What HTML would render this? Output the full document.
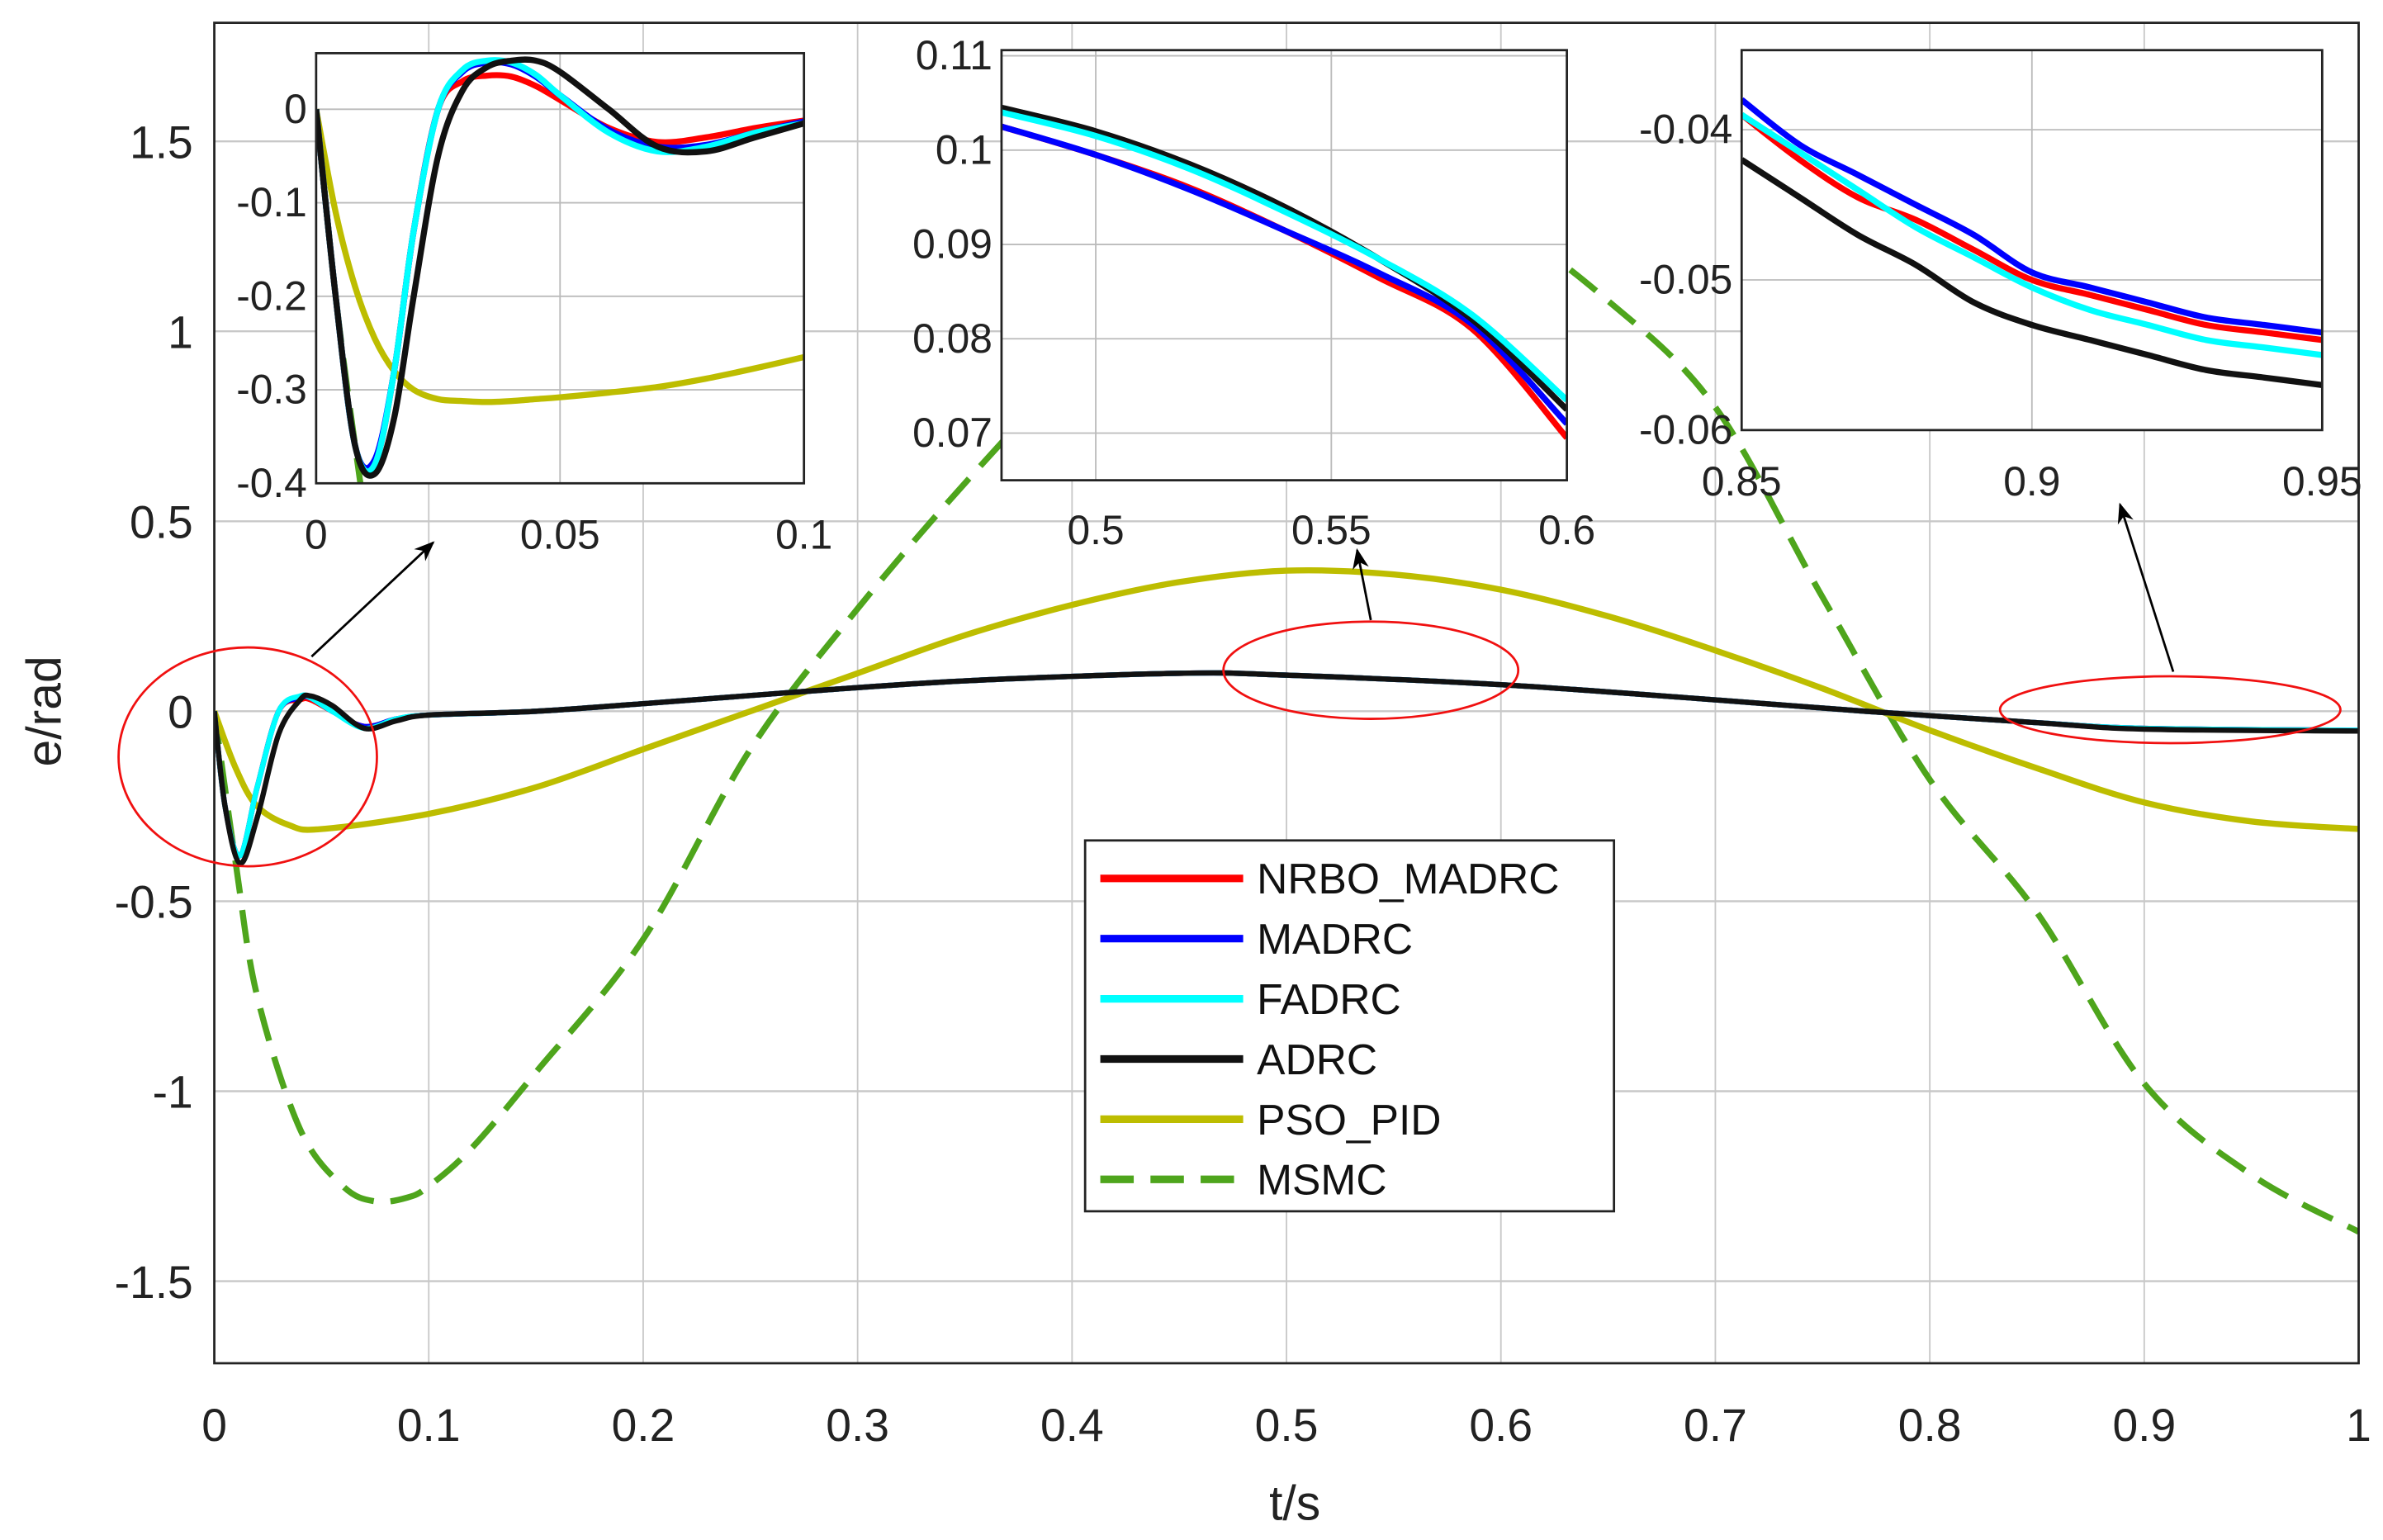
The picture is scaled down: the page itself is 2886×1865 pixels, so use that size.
<!DOCTYPE html>
<html><head><meta charset="utf-8"><style>
html,body{margin:0;padding:0;background:#fff;}
svg{display:block;font-family:"Liberation Sans",sans-serif;}
</style></head><body>
<svg id="chart" width="2886" height="1865" viewBox="0 0 1568 1013.3" xmlns="http://www.w3.org/2000/svg">
<defs>
<clipPath id="cMain"><rect x="141" y="15" width="1411" height="882"/></clipPath>
<clipPath id="cI1"><rect x="208" y="35" width="321" height="283"/></clipPath>
<clipPath id="cI2"><rect x="659" y="33" width="372" height="283"/></clipPath>
<clipPath id="cI3"><rect x="1146" y="33" width="382" height="250"/></clipPath>
<marker id="ah" viewBox="0 0 10 10" refX="9" refY="5" markerWidth="9" markerHeight="9" orient="auto"><path d="M0,1 L10,5 L0,9 L3,5 z" fill="#000"/></marker>
</defs>
<g id="layer"></g>
</svg>
<script>
// ===== data =====
const mainTicksX = [0,0.1,0.2,0.3,0.4,0.5,0.6,0.7,0.8,0.9,1];
const mainTickLabelsX = ["0","0.1","0.2","0.3","0.4","0.5","0.6","0.7","0.8","0.9","1"];
const mainTicksY = [1.5,1,0.5,0,-0.5,-1,-1.5];
const mainTickLabelsY = ["1.5","1","0.5","0","-0.5","-1","-1.5"];
const seriesNames = ["NRBO_MADRC","MADRC","FADRC","ADRC","PSO_PID","MSMC"];

const tMain = [0,0.005,0.012,0.02,0.03,0.04,0.045,0.055,0.07,0.085,0.1,0.15,0.2,0.27,0.35,0.45,0.5,0.6,0.7,0.77,0.85,0.9,1];
const nrboMain = [0,-0.25,-0.38,-0.2,0.0,0.03,0.03,0.0,-0.04,-0.02,-0.01,0,0.02,0.05,0.08,0.1,0.095,0.07,0.03,0,-0.03,-0.045,-0.05];
const madrcMain = [0,-0.25,-0.38,-0.2,0.0,0.035,0.035,0.0,-0.04,-0.02,-0.01,0,0.02,0.05,0.08,0.1,0.095,0.07,0.03,0,-0.03,-0.045,-0.05];
const fadrcMain = [0,-0.25,-0.38,-0.2,0.0,0.04,0.035,0.0,-0.045,-0.02,-0.01,0,0.02,0.05,0.08,0.1,0.095,0.07,0.03,0,-0.03,-0.045,-0.05];
const adrcMain = [0,-0.25,-0.4,-0.28,-0.06,0.03,0.04,0.015,-0.045,-0.025,-0.01,0,0.02,0.05,0.08,0.1,0.095,0.07,0.03,0,-0.03,-0.047,-0.052];
const tPso = [0,0.01,0.02,0.035,0.05,0.1,0.15,0.2,0.25,0.3,0.35,0.4,0.45,0.5,0.55,0.6,0.65,0.7,0.75,0.8,0.85,0.9,0.95,1];
const psoMain = [0,-0.15,-0.25,-0.3,-0.31,-0.27,-0.2,-0.1,0.0,0.1,0.2,0.28,0.34,0.37,0.36,0.32,0.25,0.16,0.06,-0.05,-0.15,-0.24,-0.29,-0.31];
const tMsmc = [0,0.01,0.02,0.04,0.06,0.075,0.09,0.1,0.12,0.15,0.2,0.25,0.3,0.35,0.4,0.45,0.5,0.55,0.6,0.65,0.7,0.75,0.8,0.85,0.9,0.95,1];
const msmcMain = [0,-0.4,-0.75,-1.1,-1.25,-1.29,-1.28,-1.25,-1.15,-0.95,-0.6,-0.1,0.27,0.6,0.9,1.15,1.3,1.35,1.28,1.08,0.8,0.3,-0.18,-0.53,-0.98,-1.22,-1.37];

// inset 1
const tI1 = [0,0.004,0.008,0.012,0.016,0.02,0.025,0.03,0.035,0.04,0.045,0.05,0.06,0.07,0.08,0.09,0.1];
const nrboI1 = [0,-0.2,-0.36,-0.38,-0.28,-0.13,0.0,0.03,0.036,0.035,0.025,0.01,-0.02,-0.035,-0.03,-0.02,-0.012];
const madrcI1 = [0,-0.2,-0.36,-0.375,-0.28,-0.13,0.0,0.04,0.05,0.048,0.035,0.015,-0.022,-0.04,-0.038,-0.025,-0.013];
const fadrcI1 = [0,-0.2,-0.36,-0.38,-0.28,-0.13,0.0,0.042,0.052,0.05,0.037,0.015,-0.025,-0.045,-0.04,-0.025,-0.015];
const adrcI1 = [0,-0.2,-0.36,-0.39,-0.33,-0.2,-0.05,0.02,0.045,0.052,0.052,0.04,0.0,-0.04,-0.045,-0.03,-0.015];
const psoI1 = [0,-0.11,-0.19,-0.245,-0.28,-0.3,-0.31,-0.312,-0.313,-0.312,-0.31,-0.308,-0.303,-0.297,-0.288,-0.277,-0.265];
const msmcI1 = [0,-0.2,-0.36,-0.5,-0.6,-0.7,-0.8,-0.9,-1,-1.05,-1.1,-1.15,-1.2,-1.25,-1.28,-1.29,-1.28];
const i1TicksX = [0,0.05,0.1]; const i1LabelsX = ["0","0.05","0.1"];
const i1TicksY = [0,-0.1,-0.2,-0.3,-0.4]; const i1LabelsY = ["0","-0.1","-0.2","-0.3","-0.4"];

// inset 2
const tI2 = [0.48,0.5,0.52,0.54,0.56,0.58,0.6];
const nrboI2 = [0.1025,0.0995,0.096,0.0915,0.0865,0.081,0.0695];
const madrcI2 = [0.1025,0.0995,0.0958,0.0915,0.087,0.0815,0.071];
const fadrcI2 = [0.104,0.1015,0.098,0.0935,0.0885,0.0825,0.0735];
const adrcI2 = [0.1045,0.102,0.0985,0.094,0.0885,0.082,0.0725];
const i2TicksX = [0.5,0.55,0.6]; const i2LabelsX = ["0.5","0.55","0.6"];
const i2TicksY = [0.11,0.1,0.09,0.08,0.07]; const i2LabelsY = ["0.11","0.1","0.09","0.08","0.07"];

// inset 3
const tI3 = [0.85,0.86,0.87,0.88,0.89,0.9,0.91,0.92,0.93,0.94,0.95];
const nrboI3 = [-0.039,-0.042,-0.0445,-0.046,-0.048,-0.05,-0.051,-0.052,-0.053,-0.0535,-0.054];
const madrcI3 = [-0.038,-0.041,-0.043,-0.045,-0.047,-0.0495,-0.0505,-0.0515,-0.0525,-0.053,-0.0535];
const fadrcI3 = [-0.039,-0.0415,-0.044,-0.0465,-0.0485,-0.0505,-0.052,-0.053,-0.054,-0.0545,-0.055];
const adrcI3 = [-0.042,-0.0445,-0.047,-0.049,-0.0515,-0.053,-0.054,-0.055,-0.056,-0.0565,-0.057];
const i3TicksX = [0.85,0.9,0.95]; const i3LabelsX = ["0.85","0.9","0.95"];
const i3TicksY = [-0.04,-0.05,-0.06]; const i3LabelsY = ["-0.04","-0.05","-0.06"];

// ===== drawing =====
const NS = "http://www.w3.org/2000/svg";
const layer = document.getElementById("layer");
function mk(tag, attrs, parent){ const e=document.createElementNS(NS,tag); for(const k in attrs) e.setAttribute(k,attrs[k]); (parent||layer).appendChild(e); return e; }
function axis(x0,x1,px0,px1){ return v => px0 + (v-x0)/(x1-x0)*(px1-px0); }
function smoothPath(xs, ys, sx, sy){
  const p = xs.map((x,i)=>[sx(x), sy(ys[i])]);
  let d = "M"+p[0][0].toFixed(2)+","+p[0][1].toFixed(2);
  for(let i=0;i<p.length-1;i++){
    const p0=p[Math.max(0,i-1)], p1=p[i], p2=p[i+1], p3=p[Math.min(p.length-1,i+2)];
    const c1=[p1[0]+(p2[0]-p0[0])/6, p1[1]+(p2[1]-p0[1])/6];
    const c2=[p2[0]-(p3[0]-p1[0])/6, p2[1]-(p3[1]-p1[1])/6];
    d += " C"+c1[0].toFixed(2)+","+c1[1].toFixed(2)+" "+c2[0].toFixed(2)+","+c2[1].toFixed(2)+" "+p2[0].toFixed(2)+","+p2[1].toFixed(2);
  }
  return d;
}
const colors = {nrbo:"#ff0000", madrc:"#0000ff", fadrc:"#00ffff", adrc:"#111111", pso:"#bdbd00", msmc:"#4ea51c"};

// main axes
const X = axis(0,1,141,1552), Y = axis(0,0.5,468,343);
const grid = mk("g",{});


mainTicksX.forEach(v=>{ mk("line",{x1:X(v),x2:X(v),y1:15,y2:897,stroke:"#c8c8c8","stroke-width":1},grid); });
mainTicksY.forEach(v=>{ mk("line",{x1:141,x2:1552,y1:Y(v),y2:Y(v),stroke:"#c8c8c8","stroke-width":1.3},grid); });
mainTicksX.forEach((v,i)=>{ const t=mk("text",{x:X(v),y:948,"font-size":30,"text-anchor":"middle",fill:"#222"}); t.textContent=mainTickLabelsX[i];
    });
mainTicksY.forEach((v,i)=>{ const t=mk("text",{x:127,y:Y(v)+11,"font-size":30,"text-anchor":"end",fill:"#222"}); t.textContent=mainTickLabelsY[i];
    });
const xt = mk("text",{x:852,y:1000,"font-size":32,"text-anchor":"middle",fill:"#222"}); xt.textContent="t/s";
 
const yt = mk("text",{x:40,y:468,"font-size":32,"text-anchor":"middle",fill:"#222",transform:"rotate(-90 40 468)"}); yt.textContent="e/rad";
 

const mg = mk("g",{"clip-path":"url(#cMain)"});
function line(parent, xs, ys, sx, sy, color, w, name, dash){
  const a={d:smoothPath(xs,ys,sx,sy),fill:"none",stroke:color,"stroke-width":w,"stroke-linejoin":"round"};
  if(dash) a["stroke-dasharray"]=dash;
  const p=mk("path",a,parent);
  
  
  return p;
}
line(mg,tMsmc,msmcMain,X,Y,colors.msmc,4,"msmc-line","22 11");
line(mg,tPso,psoMain,X,Y,colors.pso,4,"pso-pid-line");
line(mg,tMain,nrboMain,X,Y,colors.nrbo,3.5,"nrbo-madrc-line");
line(mg,tMain,madrcMain,X,Y,colors.madrc,3.5,"madrc-line");
line(mg,tMain,fadrcMain,X,Y,colors.fadrc,3.5,"fadrc-line");
line(mg,tMain,adrcMain,X,Y,colors.adrc,3.5,"adrc-line");
const frame = mk("rect",{x:141,y:15,width:1411,height:882,fill:"none",stroke:"#222","stroke-width":1.5});
 

// insets
function inset(name, box, xr, yr, ticksX, labelsX, ticksY, labelsY, clip, series, labY){
  const g = mk("g",{});
  
  
  mk("rect",{x:box[0],y:box[1],width:box[2],height:box[3],fill:"#fff"},g);
  const sx=axis(xr[0],xr[1],box[0],box[0]+box[2]), sy=axis(yr[0],yr[1],box[1]+box[3],box[1]);
  ticksX.forEach((v,i)=>{ mk("line",{x1:sx(v),x2:sx(v),y1:box[1],y2:box[1]+box[3],stroke:"#bbb","stroke-width":1},g);
    const t=mk("text",{x:sx(v),y:labY,"font-size":27,"text-anchor":"middle",fill:"#222"},g); t.textContent=labelsX[i];
      });
  ticksY.forEach((v,i)=>{ mk("line",{x1:box[0],x2:box[0]+box[2],y1:sy(v),y2:sy(v),stroke:"#bbb","stroke-width":1},g);
    const t=mk("text",{x:box[0]-6,y:sy(v)+9,"font-size":27,"text-anchor":"end",fill:"#222"},g); t.textContent=labelsY[i];
      });
  const cg = mk("g",{"clip-path":"url(#"+clip+")"},g);
  series.forEach(s=>line(cg,s[0],s[1],sx,sy,s[2],s[3],s[4],s[5]));
  mk("rect",{x:box[0],y:box[1],width:box[2],height:box[3],fill:"none",stroke:"#222","stroke-width":1.5},g);
}
inset("inset-startup",[208,35,321,283],[0,0.1],[-0.4,0.06],i1TicksX,i1LabelsX,i1TicksY,i1LabelsY,"cI1",[
  [tI1,msmcI1,colors.msmc,4,"inset1-msmc","22 11"],
  [tI1,psoI1,colors.pso,4,"inset1-pso-pid"],
  [tI1,nrboI1,colors.nrbo,4,"inset1-nrbo-madrc"],
  [tI1,madrcI1,colors.madrc,4,"inset1-madrc"],
  [tI1,fadrcI1,colors.fadrc,4,"inset1-fadrc"],
  [tI1,adrcI1,colors.adrc,4,"inset1-adrc"]],361);
inset("inset-mid",[659,33,372,283],[0.48,0.6],[0.065,0.1106],i2TicksX,i2LabelsX,i2TicksY,i2LabelsY,"cI2",[
  [tI2,nrboI2,colors.nrbo,4,"inset2-nrbo-madrc"],
  [tI2,madrcI2,colors.madrc,4,"inset2-madrc"],
  [tI2,adrcI2,colors.adrc,4,"inset2-adrc"],
  [tI2,fadrcI2,colors.fadrc,4,"inset2-fadrc"]],358);
inset("inset-end",[1146,33,382,250],[0.85,0.95],[-0.06,-0.0347],i3TicksX,i3LabelsX,i3TicksY,i3LabelsY,"cI3",[
  [tI3,adrcI3,colors.adrc,4,"inset3-adrc"],
  [tI3,nrboI3,colors.nrbo,4,"inset3-nrbo-madrc"],
  [tI3,madrcI3,colors.madrc,4,"inset3-madrc"],
  [tI3,fadrcI3,colors.fadrc,4,"inset3-fadrc"]],326);

// ellipses & arrows
[[163,498,85,72],[902,441,97,32],[1428,467,112,22]].forEach((e,i)=>{
  const el=mk("ellipse",{cx:e[0],cy:e[1],rx:e[2],ry:e[3],fill:"none",stroke:"#f01010","stroke-width":1.5});
   
});
[[205,432,285,357],[902,408,893,362],[1430,442,1395,332]].forEach(a=>{
  const el=mk("line",{x1:a[0],y1:a[1],x2:a[2],y2:a[3],stroke:"#000","stroke-width":1.5,"marker-end":"url(#ah)"});
   
});

// legend
const lg = mk("g",{});


mk("rect",{x:714,y:553,width:348,height:244,fill:"#fff",stroke:"#222","stroke-width":1.5},lg);
const legColors=[colors.nrbo,colors.madrc,colors.fadrc,colors.adrc,colors.pso,colors.msmc];
seriesNames.forEach((n,i)=>{
  const y=578+i*39.6;
  const a={x1:724,x2:818,y1:y,y2:y,stroke:legColors[i],"stroke-width":5};
  if(i===5) a["stroke-dasharray"]="22 11";
  const l=mk("line",a,lg);
   
  const t=mk("text",{x:827,y:y+10,"font-size":28,fill:"#111"},lg); t.textContent=n;
   
});
</script>
</body></html>
